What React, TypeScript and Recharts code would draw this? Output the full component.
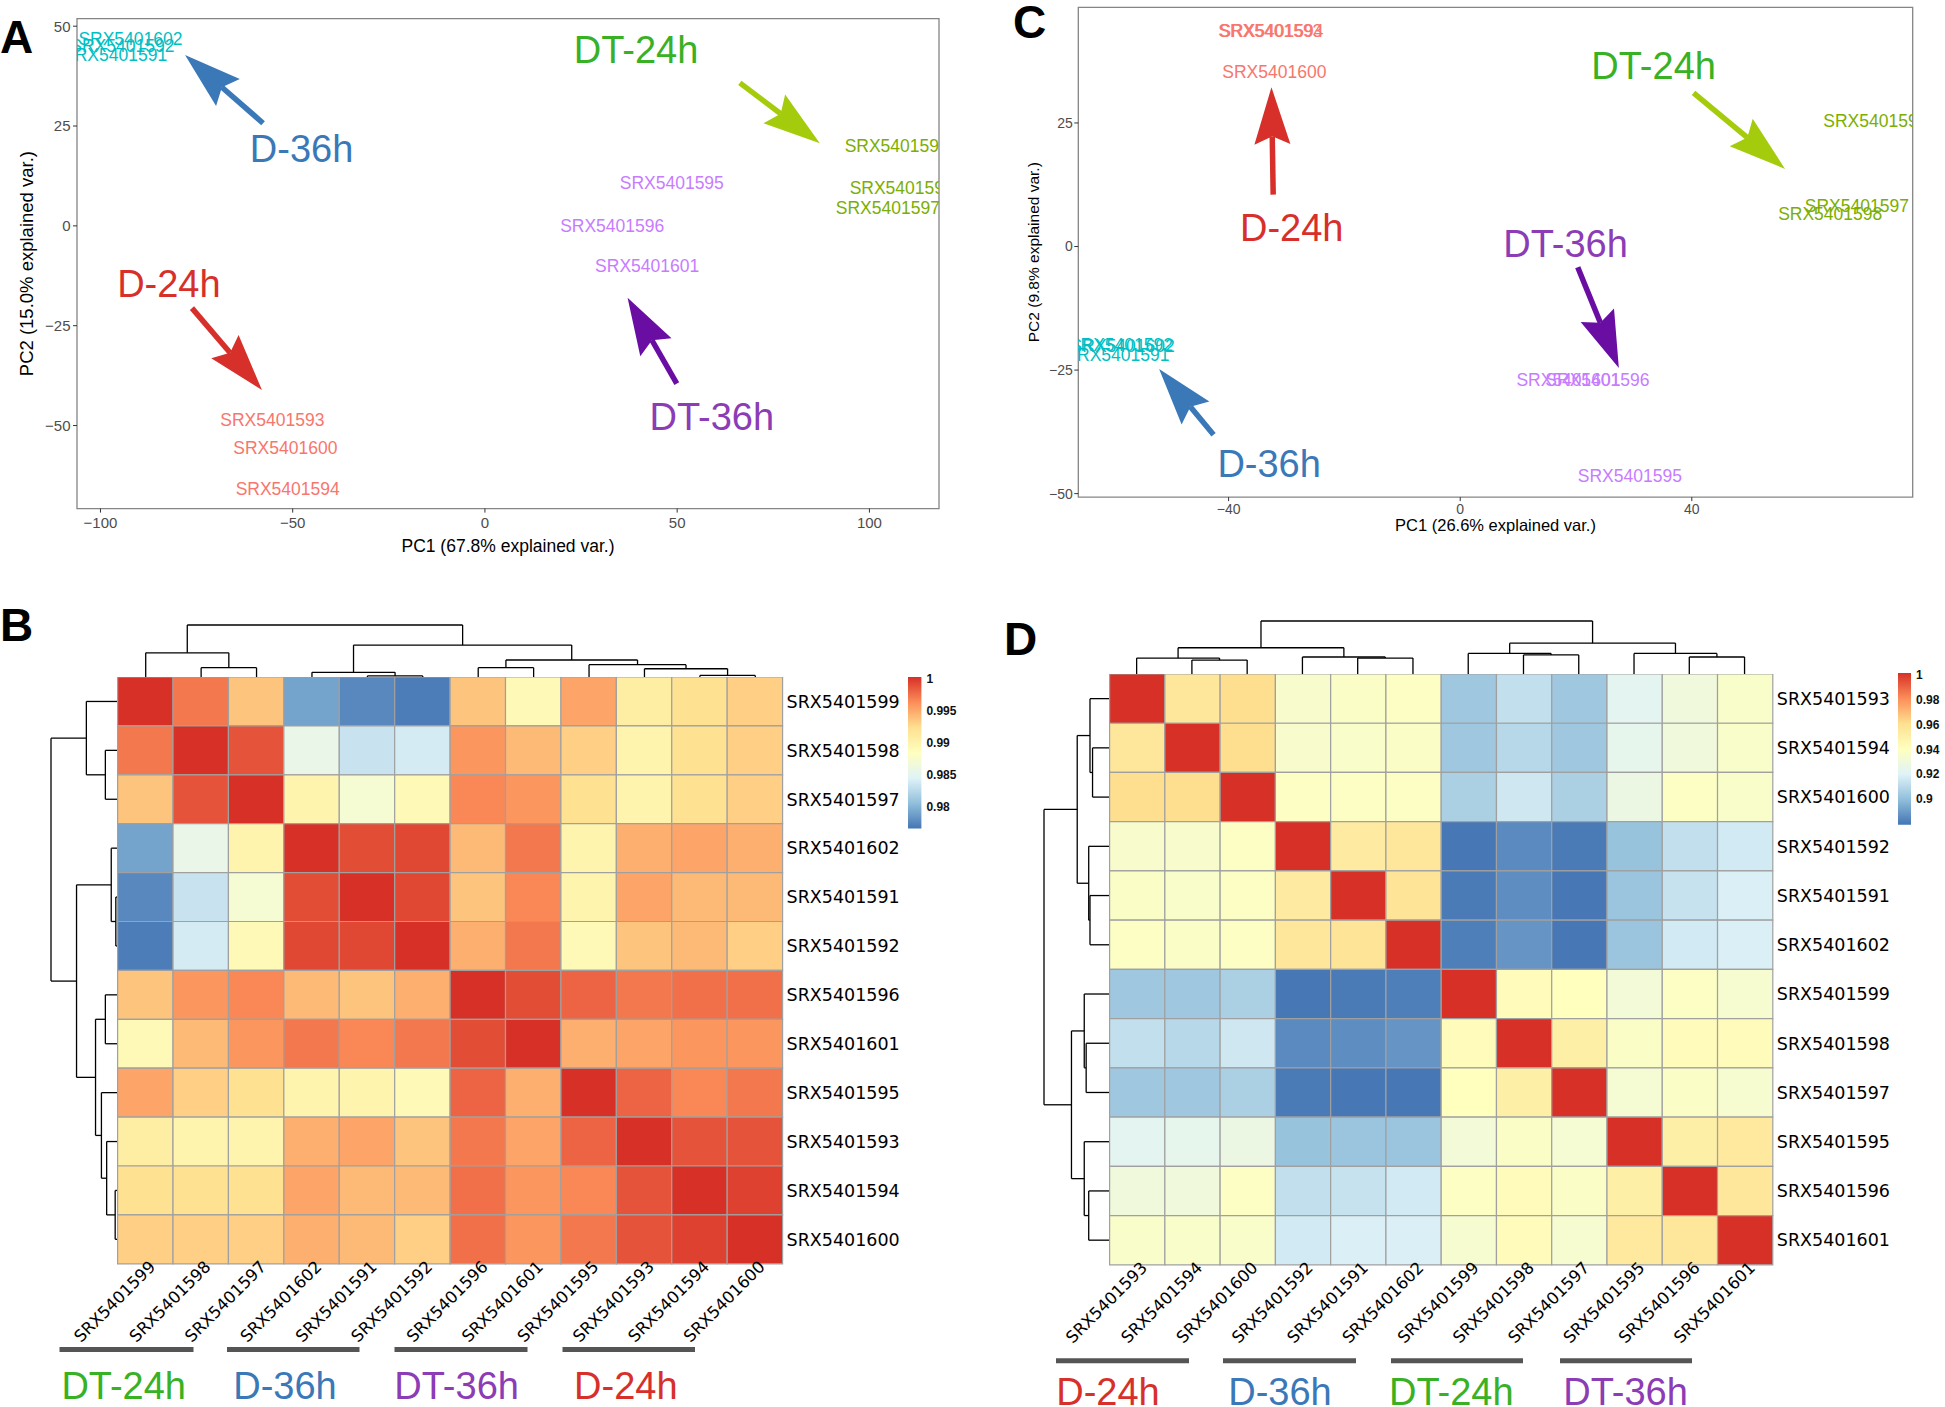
import React from 'react';
import { ScatterChart, Scatter, XAxis, YAxis, ReferenceLine, ReferenceArea, ReferenceDot } from 'recharts';

const FONT = '"Liberation Sans", Arial, Helvetica, sans-serif';
const CELL_FONT = '"DejaVu Sans", "Liberation Sans", sans-serif';

// ---------- PCA data (panels A and C) ----------
const sampleIds = ['SRX5401591', 'SRX5401592', 'SRX5401602', 'SRX5401593', 'SRX5401594', 'SRX5401600',
  'SRX5401595', 'SRX5401596', 'SRX5401601', 'SRX5401597', 'SRX5401598', 'SRX5401599'];
const sampleGroup = ['D-36h', 'D-36h', 'D-36h', 'D-24h', 'D-24h', 'D-24h',
  'DT-36h', 'DT-36h', 'DT-36h', 'DT-24h', 'DT-24h', 'DT-24h'];
const groupNames = ['D-24h', 'D-36h', 'DT-24h', 'DT-36h'];

const pcaA_pc1 = [-96.2, -94.3, -92.2, -55.3, -51.3, -51.9, 48.6, 33.1, 42.2, 104.8, 108.4, 107.1];
const pcaA_pc2 = [42.7, 45.1, 46.7, -48.6, -65.9, -55.6, 10.7, 0.1, -9.9, 4.6, 9.5, 20.1];
const pcaC_pc1 = [-59.2, -58.6, -58.3, -32.8, -32.6, -32.1, 29.3, 23.7, 18.7, 68.5, 63.9, 71.7];
const pcaC_pc2 = [-21.9, -19.8, -20.2, 43.6, 43.6, 35.3, -46.4, -27.0, -27.0, 8.3, 6.6, 25.4];

const pointColors: Record<string, string> = { 'D-24h': '#F8766D', 'D-36h': '#00BFC4', 'DT-24h': '#7CAE00', 'DT-36h': '#C77CFF' };
const titleColors: Record<string, string> = { 'D-24h': '#D7302A', 'D-36h': '#3A78B8', 'DT-24h': '#38B124', 'DT-36h': '#8C3CB4' };
const arrowColors: Record<string, string> = { 'D-24h': '#D7302A', 'D-36h': '#3A78B8', 'DT-24h': '#A5CC0C', 'DT-36h': '#6A0DA3' };

// group callouts: label centre and arrow (start -> tip), in PC units
const annotA = [
  { group: 'DT-24h', tx: 39.3, ty: 44.1, x1: 66.3, y1: 35.8, x2: 87.1, y2: 20.7 },
  { group: 'D-36h', tx: -47.7, ty: 19.4, x1: -57.7, y1: 25.7, x2: -78.0, y2: 42.8 },
  { group: 'D-24h', tx: -82.2, ty: -14.6, x1: -76.2, y1: -20.6, x2: -58.0, y2: -41.1 },
  { group: 'DT-36h', tx: 59.0, ty: -47.9, x1: 49.9, y1: -39.5, x2: 37.1, y2: -18.0 },
];
const annotC = [
  { group: 'DT-24h', tx: 33.4, ty: 36.6, x1: 40.3, y1: 31.1, x2: 56.1, y2: 15.7 },
  { group: 'D-24h', tx: -29.1, ty: 3.9, x1: -32.3, y1: 10.5, x2: -32.6, y2: 32.2 },
  { group: 'DT-36h', tx: 18.2, ty: 0.6, x1: 20.3, y1: -4.2, x2: 27.4, y2: -24.6 },
  { group: 'D-36h', tx: -33.0, ty: -43.9, x1: -42.6, y1: -38.1, x2: -52.0, y2: -24.8 },
];

// ---------- correlation heatmaps (panels B and D) ----------
const labelsB = ['SRX5401599', 'SRX5401598', 'SRX5401597', 'SRX5401602', 'SRX5401591', 'SRX5401592',
  'SRX5401596', 'SRX5401601', 'SRX5401595', 'SRX5401593', 'SRX5401594', 'SRX5401600'];
const corrB = [
  [1, .9970, .9935, .9790, .9776, .9770, .9935, .9890, .9950, .9905, .9920, .9930],
  [.9970, 1, .9985, .9855, .9832, .9838, .9957, .9940, .9930, .9897, .9920, .9930],
  [.9935, .9985, 1, .9897, .9870, .9890, .9963, .9957, .9920, .9897, .9920, .9930],
  [.9790, .9855, .9897, 1, .9988, .9990, .9940, .9970, .9897, .9945, .9950, .9945],
  [.9776, .9832, .9870, .9988, 1, .9990, .9935, .9963, .9897, .9950, .9940, .9940],
  [.9770, .9838, .9890, .9990, .9990, 1, .9945, .9970, .9890, .9935, .9940, .9930],
  [.9935, .9957, .9963, .9940, .9935, .9945, 1, .9988, .9978, .9970, .9973, .9973],
  [.9890, .9940, .9957, .9970, .9963, .9970, .9988, 1, .9945, .9950, .9957, .9957],
  [.9950, .9930, .9920, .9897, .9897, .9890, .9978, .9945, 1, .9978, .9963, .9970],
  [.9905, .9897, .9897, .9945, .9950, .9935, .9970, .9950, .9978, 1, .9985, .9985],
  [.9920, .9920, .9920, .9950, .9940, .9940, .9973, .9957, .9963, .9985, 1, .9993],
  [.9930, .9930, .9930, .9945, .9940, .9930, .9973, .9957, .9970, .9985, .9993, 1],
];
// hclust merges: negative = leaf (display position), positive = earlier merge; [a, b, height]
const treeB: [number, number, number][] = [
  [-5, -6, 3], [-11, -12, 4], [-4, 1, 10], [-10, 2, 17], [-2, -3, 19], [-7, -8, 19],
  [-9, 4, 25], [6, 7, 34], [-1, 5, 48], [3, 8, 63], [9, 10, 102],
];
const legendTicksB = [0.98, 0.985, 0.99, 0.995, 1];

const labelsD = ['SRX5401593', 'SRX5401594', 'SRX5401600', 'SRX5401592', 'SRX5401591', 'SRX5401602',
  'SRX5401599', 'SRX5401598', 'SRX5401597', 'SRX5401595', 'SRX5401596', 'SRX5401601'];
const corrD = [
  [1, .955, .960, .935, .937, .938, .903, .912, .903, .922, .930, .936],
  [.955, 1, .960, .935, .936, .937, .903, .909, .903, .924, .930, .936],
  [.960, .960, 1, .938, .938, .938, .906, .915, .906, .927, .938, .936],
  [.935, .935, .938, 1, .953, .955, .880, .885, .881, .901, .912, .916],
  [.937, .936, .938, .953, 1, .957, .881, .886, .880, .902, .913, .918],
  [.938, .937, .938, .955, .957, 1, .882, .888, .880, .902, .916, .918],
  [.903, .903, .906, .880, .881, .882, 1, .942, .940, .931, .938, .934],
  [.912, .909, .915, .885, .886, .888, .942, 1, .950, .937, .942, .942],
  [.903, .903, .906, .881, .880, .880, .940, .950, 1, .933, .937, .934],
  [.922, .924, .927, .901, .902, .902, .931, .937, .933, 1, .950, .954],
  [.930, .930, .938, .912, .913, .916, .938, .942, .937, .950, 1, .955],
  [.936, .936, .936, .916, .918, .918, .934, .942, .934, .954, .955, 1],
];
const treeD: [number, number, number][] = [
  [-2, -3, 27], [-1, 1, 31], [-5, -6, 31], [-4, 3, 33], [2, 4, 51], [-8, -9, 37],
  [-7, 6, 40], [-11, -12, 33], [-10, 8, 40], [7, 9, 60], [5, 10, 103],
];
const legendTicksD = [0.9, 0.92, 0.94, 0.96, 0.98, 1];

const groupOrderB = ['DT-24h', 'D-36h', 'DT-36h', 'D-24h'];
const groupOrderD = ['D-24h', 'D-36h', 'DT-24h', 'DT-36h'];

const rdylbu = ['#4575B4', '#91BFDB', '#E0F3F8', '#FFFFBF', '#FEE090', '#FC8D59', '#D73027'];

function hexToRgb(h: string) {
  return [parseInt(h.slice(1, 3), 16), parseInt(h.slice(3, 5), 16), parseInt(h.slice(5, 7), 16)];
}
function heatColor(v: number, lo: number, hi: number) {
  const t = Math.min(1, Math.max(0, (v - lo) / (hi - lo))) * 6;
  const i = Math.min(5, Math.floor(t));
  const f = t - i;
  const a = hexToRgb(rdylbu[i]);
  const b = hexToRgb(rdylbu[i + 1]);
  const c = a.map((av, k) => Math.round(av + (b[k] - av) * f));
  return `rgb(${c[0]},${c[1]},${c[2]})`;
}

const fmtTick = (v: number) => (v < 0 ? `\u2212${Math.abs(v)}` : `${v}`);

const arrowShape = (color: string) => (p: any) => {
  const { x1, y1, x2, y2 } = p;
  const dx = x2 - x1;
  const dy = y2 - y1;
  const len = Math.hypot(dx, dy) || 1;
  const ux = dx / len;
  const uy = dy / len;
  const L = 57, W = 18, N = 49;
  const bx = x2 - ux * L, by = y2 - uy * L;
  const nx = -uy, ny = ux;
  const kx = x2 - ux * N, ky = y2 - uy * N;
  return (
    <g>
      <line x1={x1} y1={y1} x2={kx} y2={ky} stroke={color} strokeWidth={5.5} />
      <polygon points={`${x2},${y2} ${bx + nx * W},${by + ny * W} ${kx},${ky} ${bx - nx * W},${by - ny * W}`} fill={color} />
    </g>
  );
};

const labelShape = (color: string) => (p: any) => (
  <text x={p.cx} y={p.cy} dy="0.35em" textAnchor="middle" fill={color} fontSize={17.5} fontFamily={FONT}>
    {p.payload.name}
  </text>
);

interface PcaCfg {
  left: number; top: number; width: number; height: number;
  margin: { top: number; right: number; left: number; bottom: number };
  yAxisWidth: number; xAxisHeight: number;
  xDomain: [number, number]; yDomain: [number, number];
  xTicks: number[]; yTicks: number[];
  pc1: number[]; pc2: number[];
  annots: typeof annotA;
  xTickMargin: number; yTickMargin: number; tickFont: number;
}

const PcaPanel = ({ cfg }: { cfg: PcaCfg }) => {
  const groups = groupNames.map(g => ({
    g,
    data: sampleIds
      .map((id, i) => ({ name: id, x: cfg.pc1[i], y: cfg.pc2[i], grp: sampleGroup[i] }))
      .filter(d => d.grp === g),
  }));
  const tickStyle = { fill: '#4d4d4d', fontSize: cfg.tickFont, fontFamily: FONT };
  return (
    <div style={{ position: 'absolute', left: cfg.left, top: cfg.top }}>
      <ScatterChart width={cfg.width} height={cfg.height} margin={cfg.margin}>
        <XAxis type="number" dataKey="x" domain={cfg.xDomain} ticks={cfg.xTicks} interval={0} allowDataOverflow
          height={cfg.xAxisHeight} axisLine={false} tickSize={4} tickMargin={cfg.xTickMargin}
          tickLine={{ stroke: '#333' }} tick={tickStyle} tickFormatter={fmtTick} />
        <YAxis type="number" dataKey="y" domain={cfg.yDomain} ticks={cfg.yTicks} interval={0} allowDataOverflow
          width={cfg.yAxisWidth} axisLine={false} tickSize={4} tickMargin={cfg.yTickMargin}
          tickLine={{ stroke: '#333' }} tick={tickStyle} tickFormatter={fmtTick} />
        {groups.map(s => (
          <Scatter key={s.g} name={s.g} data={s.data} fill={pointColors[s.g]}
            shape={labelShape(pointColors[s.g])} isAnimationActive={false} />
        ))}
        {cfg.annots.map(a => (
          <ReferenceLine key={`ar-${a.group}`} segment={[{ x: a.x1, y: a.y1 }, { x: a.x2, y: a.y2 }]}
            ifOverflow="visible" shape={arrowShape(arrowColors[a.group])} />
        ))}
        {cfg.annots.map(a => (
          <ReferenceDot key={`tx-${a.group}`} x={a.tx} y={a.ty} r={0} ifOverflow="visible"
            shape={(p: any) => (
              <text x={p.cx} y={p.cy} dy="0.35em" textAnchor="middle" fontSize={38} fontFamily={FONT}
                fill={titleColors[a.group]}>{a.group}</text>
            )} />
        ))}
        <ReferenceArea x1={cfg.xDomain[0]} x2={cfg.xDomain[1]} y1={cfg.yDomain[0]} y2={cfg.yDomain[1]}
          fill="none" fillOpacity={0} stroke="#858585" strokeWidth={1.3} ifOverflow="visible" />
      </ScatterChart>
    </div>
  );
};

const cfgA: PcaCfg = {
  left: 0, top: 0, width: 960, height: 570,
  margin: { top: 18.6, right: 21, left: 0, bottom: 0 },
  yAxisWidth: 77, xAxisHeight: 61.4,
  xDomain: [-106.1, 118.1], yDomain: [-70.8, 51.9],
  xTicks: [-100, -50, 0, 50, 100], yTicks: [-50, -25, 0, 25, 50],
  pc1: pcaA_pc1, pc2: pcaA_pc2, annots: annotA, xTickMargin: 5, yTickMargin: 2.5, tickFont: 15,
};
const cfgC: PcaCfg = {
  left: 990, top: 0, width: 955, height: 570,
  margin: { top: 7.3, right: 32.3, left: 0, bottom: 0 },
  yAxisWidth: 88.3, xAxisHeight: 72.9,
  xDomain: [-65.96, 78.15], yDomain: [-50.7, 48.4],
  xTicks: [-40, 0, 40], yTicks: [-50, -25, 0, 25],
  pc1: pcaC_pc1, pc2: pcaC_pc2, annots: annotC, xTickMargin: 2.5, yTickMargin: 1.5, tickFont: 14,
};

// ---------- dendrogram ----------
function dendroSegments(merges: [number, number, number][]) {
  const pos: number[] = [];
  const hgt: number[] = [];
  const get = (id: number) => (id < 0 ? { p: -id - 0.5, h: 0 } : { p: pos[id - 1], h: hgt[id - 1] });
  const segs: { p1: number; h1: number; p2: number; h2: number }[] = [];
  merges.forEach(([a, b, h], k) => {
    const A = get(a);
    const B = get(b);
    segs.push({ p1: A.p, h1: A.h, p2: A.p, h2: h });
    segs.push({ p1: B.p, h1: B.h, p2: B.p, h2: h });
    segs.push({ p1: A.p, h1: h, p2: B.p, h2: h });
    pos[k] = (A.p + B.p) / 2;
    hgt[k] = h;
  });
  return segs;
}

const Dendrogram = ({ merges, left, top, width, height, side }: any) => {
  const segs = dendroSegments(merges);
  const rootH = merges[merges.length - 1][2];
  const leaves = Array.from({ length: 12 }, (_, i) => ({ p: i + 0.5, h: 0 }));
  const isTop = side === 'top';
  return (
    <div style={{ position: 'absolute', left, top }}>
      <ScatterChart width={width} height={height}
        margin={isTop ? { top: 1, right: 0, bottom: 0, left: 0 } : { top: 0, right: 0, bottom: 0, left: 1 }}>
        {isTop ? (
          <XAxis type="number" dataKey="p" domain={[0, 12]} hide allowDataOverflow />
        ) : (
          <XAxis type="number" dataKey="h" domain={[0, rootH]} reversed hide allowDataOverflow />
        )}
        {isTop ? (
          <YAxis type="number" dataKey="h" domain={[0, rootH]} hide allowDataOverflow />
        ) : (
          <YAxis type="number" dataKey="p" domain={[0, 12]} reversed hide allowDataOverflow />
        )}
        <Scatter data={leaves} shape={() => <g />} isAnimationActive={false} />
        {segs.map((s, k) => (
          <ReferenceLine key={k} ifOverflow="visible" stroke="#000" strokeWidth={1.3}
            segment={isTop
              ? [{ x: s.p1, y: s.h1 }, { x: s.p2, y: s.h2 }]
              : [{ x: s.h1, y: s.p1 }, { x: s.h2, y: s.p2 }]} />
        ))}
      </ScatterChart>
    </div>
  );
};

// ---------- heatmap ----------
const Heatmap = ({ labels, matrix, lo, hi, left, top, width, height }: any) => {
  const centers = labels.map((_: string, i: number) => i + 0.5);
  const cellData: any[] = [];
  matrix.forEach((row: number[], i: number) => row.forEach((v, j) => cellData.push({ x: j + 0.5, y: i + 0.5, v })));
  const padL = 77.6;
  const axisW = 170;
  const axisH = 110;
  return (
    <div style={{ position: 'absolute', left: left - padL, top }}>
      <ScatterChart width={padL + width + axisW} height={height + axisH}
        margin={{ top: 0, right: 0, bottom: 0, left: padL }}>
        <XAxis type="number" dataKey="x" domain={[0, 12]} ticks={centers} interval={0} allowDataOverflow
          height={axisH} axisLine={false} tickLine={false} tickSize={0} tickMargin={0}
          tick={(p: any) => (
            <text transform={`translate(${p.x + 11},${p.y + 4}) rotate(-45)`} textAnchor="end"
              fontSize={16.5} fontFamily={CELL_FONT} fill="#000">
              {labels[Math.floor(p.payload.value)]}
            </text>
          )} />
        <YAxis type="number" dataKey="y" domain={[0, 12]} reversed orientation="right" ticks={centers} interval={0}
          allowDataOverflow width={axisW} axisLine={false} tickLine={false} tickSize={0} tickMargin={4}
          tick={(p: any) => (
            <text x={p.x} y={p.y} dy="0.36em" textAnchor="start" fontSize={17.5} fontFamily={CELL_FONT} fill="#000">
              {labels[Math.floor(p.payload.value)]}
            </text>
          )} />
        <Scatter data={cellData} shape={() => <g />} isAnimationActive={false} />
        {cellData.map(c => (
          <ReferenceArea key={`${c.x}-${c.y}`} x1={c.x - 0.5} x2={c.x + 0.5} y1={c.y - 0.5} y2={c.y + 0.5}
            fill={heatColor(c.v, lo, hi)} fillOpacity={1} stroke="#a0a0a0" strokeWidth={1.2} ifOverflow="visible" />
        ))}
      </ScatterChart>
    </div>
  );
};

const ColorLegend = ({ lo, hi, ticks, left, top, barW, height }: any) => (
  <div style={{ position: 'absolute', left, top: top - 8 }}>
    <ScatterChart width={barW + 44} height={height + 16} margin={{ top: 8, right: 0, bottom: 8, left: 0 }}>
      <XAxis type="number" dataKey="x" domain={[0, 1]} hide allowDataOverflow />
      <YAxis type="number" dataKey="y" domain={[lo, hi]} ticks={ticks} interval={0} orientation="right" width={44}
        allowDataOverflow axisLine={false} tickLine={false} tickSize={0} tickMargin={5}
        tick={{ fontSize: 12, fill: '#111', fontFamily: FONT, fontWeight: 600 }}
        tickFormatter={(v: number) => `${Number(v.toFixed(3))}`} />
      <Scatter data={[{ x: 0.5, y: lo }]} shape={() => <g />} isAnimationActive={false} />
      <ReferenceArea x1={0} x2={1} y1={lo} y2={hi} fill="url(#rdylbuGrad)" fillOpacity={1} stroke="none" ifOverflow="visible" />
    </ScatterChart>
  </div>
);

const barsB = [[59.5, 193.5], [227, 359.5], [394.5, 527.5], [562.5, 695]];
const labelXB = [123.7, 285, 456.6, 625.8];
const barsD = [[1056, 1189], [1223, 1356], [1391, 1523], [1560, 1692]];
const labelXD = [1108, 1280, 1451.3, 1625.5];

export default function App() {
  return (
    <div style={{ position: 'absolute', left: 0, top: 0, width: 1945, height: 1407, background: '#fff', fontFamily: FONT, overflow: 'hidden' }}>
      <PcaPanel cfg={cfgA} />
      <PcaPanel cfg={cfgC} />

      <Dendrogram merges={treeB} side="top" left={117.6} top={623.7} width={665} height={53.5} />
      <Dendrogram merges={treeB} side="left" left={49.8} top={677.2} width={67.8} height={586.8} />
      <Heatmap labels={labelsB} matrix={corrB} lo={0.9766} hi={1} left={117.6} top={677.2} width={665} height={586.8} />
      <ColorLegend lo={0.9766} hi={1.00025} ticks={legendTicksB} left={908.3} top={676.7} barW={13.4} height={151.6} />

      <Dendrogram merges={treeD} side="top" left={1109.4} top={619.6} width={663.2} height={54} />
      <Dendrogram merges={treeD} side="left" left={1042.6} top={673.6} width={66.8} height={590.8} />
      <Heatmap labels={labelsD} matrix={corrD} lo={0.8794} hi={1} left={1109.4} top={673.6} width={663.2} height={590.8} />
      <ColorLegend lo={0.8794} hi={1.0014} ticks={legendTicksD} left={1898.3} top={673.3} barW={13} height={151.7} />

      <svg width={1945} height={1407} style={{ position: 'absolute', left: 0, top: 0, pointerEvents: 'none' }} fontFamily={FONT}>
        <defs>
          <linearGradient id="rdylbuGrad" x1="0" y1="1" x2="0" y2="0">
            {rdylbu.map((c, i) => <stop key={c} offset={i / 6} stopColor={c} />)}
          </linearGradient>
        </defs>
        <text x={0} y={53} fontSize={46} fontWeight="bold">A</text>
        <text x={0} y={641} fontSize={46} fontWeight="bold">B</text>
        <text x={1013} y={38} fontSize={46} fontWeight="bold">C</text>
        <text x={1004} y={655} fontSize={46} fontWeight="bold">D</text>

        <text x={508} y={552} fontSize={17.5} textAnchor="middle" fill="#000">PC1 (67.8% explained var.)</text>
        <text transform="translate(27,263.6) rotate(-90)" dy="0.35em" fontSize={18.5} textAnchor="middle" fill="#000">PC2 (15.0% explained var.)</text>
        <text x={1495.5} y={530.5} fontSize={16.5} textAnchor="middle" fill="#000">PC1 (26.6% explained var.)</text>
        <text transform="translate(1034,252.2) rotate(-90)" dy="0.35em" fontSize={15.5} textAnchor="middle" fill="#000">PC2 (9.8% explained var.)</text>

        {barsB.map((b, i) => <line key={`bb${i}`} x1={b[0]} x2={b[1]} y1={1349.6} y2={1349.6} stroke="#555" strokeWidth={5} />)}
        {groupOrderB.map((g, i) => (
          <text key={`gb${g}`} x={labelXB[i]} y={1385.5} dy="0.35em" textAnchor="middle" fontSize={38} fill={titleColors[g]}>{g}</text>
        ))}
        {barsD.map((b, i) => <line key={`bd${i}`} x1={b[0]} x2={b[1]} y1={1360.7} y2={1360.7} stroke="#555" strokeWidth={5} />)}
        {groupOrderD.map((g, i) => (
          <text key={`gd${g}`} x={labelXD[i]} y={1391.7} dy="0.35em" textAnchor="middle" fontSize={38} fill={titleColors[g]}>{g}</text>
        ))}
      </svg>
    </div>
  );
}
